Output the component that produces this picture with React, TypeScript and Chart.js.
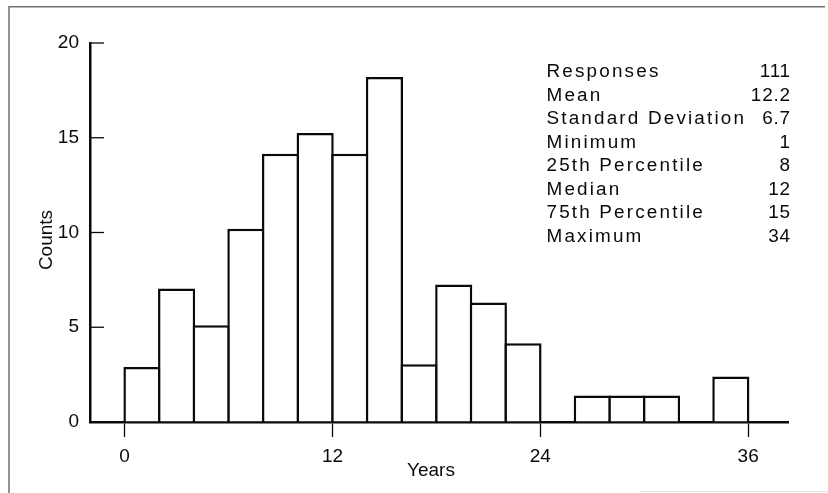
import React, { useEffect, useRef } from "react";
import { Chart, registerables } from "chart.js";

Chart.register(...registerables);

// ---- data ----
const binStarts = [0, 2, 4, 6, 8, 10, 12, 14, 16, 18, 20, 22, 24, 26, 28, 30, 32, 34];
const binWidth = 2;
const counts = [2.9, 7.05, 5.1, 10.2, 14.15, 15.25, 14.15, 18.2, 3.05, 7.25, 6.3, 4.15, 0, 1.4, 1.4, 1.4, 0, 2.4];
const xTickValues = [0, 12, 24, 36];
const yTickValues = [0, 5, 10, 15, 20];
const xTitle = "Years";
const yTitle = "Counts";
const statLabels = [
  "Responses",
  "Mean",
  "Standard Deviation",
  "Minimum",
  "25th Percentile",
  "Median",
  "75th Percentile",
  "Maximum",
];
const statValues = ["111", "12.2", "6.7", "1", "8", "12", "15", "34"];

const FONT = "'Liberation Sans', Arial, Helvetica, sans-serif";
const INK = "#0a0a0a";

const decorPlugin = {
  id: "decor",
  beforeDraw(chart: any) {
    const ctx = chart.ctx;
    ctx.save();
    ctx.strokeStyle = "#707070";
    ctx.lineWidth = 1.5;
    ctx.beginPath();
    ctx.moveTo(9, 493);
    ctx.lineTo(9, 6.8);
    ctx.lineTo(825, 6.8);
    ctx.stroke();
    ctx.strokeStyle = "#e4e4e4";
    ctx.lineWidth = 1;
    ctx.beginPath();
    ctx.moveTo(640, 491.5);
    ctx.lineTo(828, 491.5);
    ctx.stroke();
    ctx.restore();
  },
  afterDraw(chart: any) {
    const ctx = chart.ctx;
    const area = chart.chartArea;
    const yScale = chart.scales.y;
    ctx.save();
    // inward y ticks
    ctx.strokeStyle = INK;
    ctx.lineWidth = 1.3;
    yTickValues.forEach((v) => {
      if (v === 0) return;
      const py = yScale.getPixelForValue(v);
      ctx.beginPath();
      ctx.moveTo(area.left, py);
      ctx.lineTo(area.left + 14, py);
      ctx.stroke();
    });
    // axis titles
    ctx.fillStyle = INK;
    ctx.font = `19px ${FONT}`;
    ctx.textAlign = "center";
    ctx.textBaseline = "alphabetic";
    ctx.fillText(xTitle, 431, 476);
    ctx.save();
    ctx.translate(51.5, 240);
    ctx.rotate(-Math.PI / 2);
    ctx.fillText(yTitle, 0, 0);
    ctx.restore();
    // stats table
    ctx.font = `17.5px ${FONT}`;
    statLabels.forEach((label, i) => {
      const by = 77.3 + i * 23.5;
      ctx.save();
      ctx.translate(546.5, by);
      ctx.scale(1.08, 1);
      (ctx as any).letterSpacing = "2px";
      ctx.textAlign = "left";
      ctx.fillText(label, 0, 0);
      ctx.restore();
    });
    statValues.forEach((val, i) => {
      const by = 77.3 + i * 23.5;
      ctx.save();
      ctx.translate(791, by);
      ctx.scale(1.08, 1);
      (ctx as any).letterSpacing = "0.8px";
      ctx.textAlign = "right";
      ctx.fillText(val, 0, 0);
      ctx.restore();
    });
    ctx.restore();
  },
};

export default function App() {
  const canvasRef = useRef<HTMLCanvasElement | null>(null);

  useEffect(() => {
    const canvas = canvasRef.current;
    if (!canvas) return;
    const chart = new Chart(canvas, {
      type: "bar",
      data: {
        datasets: [
          {
            label: "Counts",
            data: binStarts.map((s, i) => ({ x: s + binWidth / 2, y: counts[i] })),
            backgroundColor: "#ffffff",
            borderColor: INK,
            borderWidth: 2.5,
            borderSkipped: "start",
            categoryPercentage: 1,
            barPercentage: 1.072,
          },
        ],
      },
      options: {
        responsive: false,
        animation: false,
        events: [],
        layout: { padding: { left: 0, top: 43, right: 40, bottom: 0 } },
        plugins: {
          legend: { display: false },
          tooltip: { enabled: false },
          title: { display: false },
        },
        scales: {
          x: {
            type: "linear",
            min: -2,
            max: 38.3,
            offset: false,
            z: 1,
            afterFit: (scale: any) => {
              scale.height = 71;
            },
            afterBuildTicks: (axis: any) => {
              axis.ticks = xTickValues.map((v) => ({ value: v }));
            },
            grid: {
              display: true,
              offset: false,
              drawOnChartArea: false,
              drawTicks: true,
              tickLength: 15,
              tickColor: INK,
              tickWidth: 1.3,
            },
            border: { display: true, color: INK, width: 2.5 },
            ticks: {
              color: INK,
              font: { family: FONT, size: 19 },
              padding: 8,
              maxRotation: 0,
              autoSkip: false,
            },
          },
          y: {
            type: "linear",
            min: 0,
            max: 20,
            z: 1,
            afterFit: (scale: any) => {
              scale.width = 90;
            },
            afterBuildTicks: (axis: any) => {
              axis.ticks = yTickValues.map((v) => ({ value: v }));
            },
            grid: {
              display: true,
              drawOnChartArea: false,
              drawTicks: false,
            },
            border: { display: true, color: INK, width: 2.5 },
            ticks: {
              color: INK,
              font: { family: FONT, size: 19 },
              padding: 11,
            },
          },
        },
      },
      plugins: [decorPlugin],
    } as any);
    return () => chart.destroy();
  }, []);

  return (
    <div style={{ position: "fixed", left: 0, top: 0, width: 828, height: 493, background: "#ffffff" }}>
      <canvas ref={canvasRef} width={828} height={493} style={{ display: "block", width: 828, height: 493 }} />
    </div>
  );
}
